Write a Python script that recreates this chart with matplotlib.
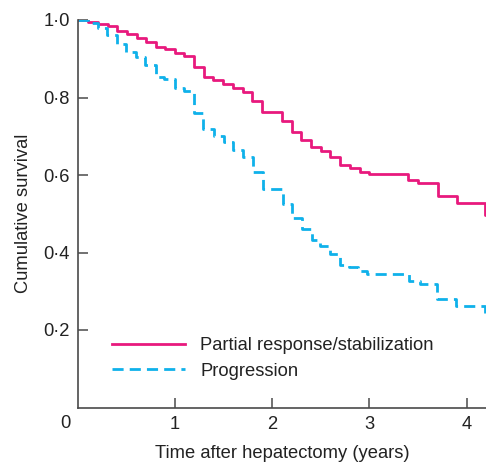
import matplotlib
matplotlib.use('Agg')
import matplotlib.pyplot as plt
from matplotlib.ticker import FuncFormatter

# Kaplan-Meier steps (time in years, survival after the drop)
pr_times = [0.0, 0.103, 0.209, 0.312, 0.398, 0.501, 0.604, 0.700, 0.799, 0.895,
            0.998, 1.094, 1.196, 1.296, 1.394, 1.495, 1.595, 1.694, 1.795, 1.896,
            2.099, 2.199, 2.299, 2.402, 2.500, 2.598, 2.699, 2.798, 2.901, 2.999,
            3.398, 3.505, 3.701, 3.902, 4.190, 4.25]
pr_surv = [1.0, 0.996, 0.990, 0.985, 0.972, 0.963, 0.954, 0.944, 0.930, 0.924,
           0.914, 0.908, 0.880, 0.854, 0.845, 0.835, 0.824, 0.813, 0.791, 0.762,
           0.739, 0.712, 0.691, 0.673, 0.661, 0.647, 0.625, 0.617, 0.608, 0.603,
           0.587, 0.580, 0.546, 0.529, 0.497, 0.497]

pg_times = [0.0, 0.103, 0.206, 0.298, 0.401, 0.494, 0.597, 0.689, 0.799, 0.885,
            0.995, 1.091, 1.190, 1.289, 1.399, 1.506, 1.600, 1.703, 1.804, 1.900,
            2.112, 2.199, 2.305, 2.404, 2.495, 2.593, 2.695, 2.788, 2.881, 2.973,
            3.408, 3.519, 3.697, 3.889, 4.187, 4.25]
pg_surv = [1.0, 0.992, 0.979, 0.961, 0.937, 0.917, 0.904, 0.884, 0.854, 0.848,
           0.824, 0.817, 0.759, 0.719, 0.701, 0.684, 0.665, 0.646, 0.607, 0.563,
           0.524, 0.488, 0.461, 0.432, 0.417, 0.396, 0.368, 0.363, 0.353, 0.345,
           0.327, 0.318, 0.279, 0.262, 0.234, 0.234]

x_ticks = [1, 2, 3, 4]
y_ticks = [0.2, 0.4, 0.6, 0.8, 1.0]

pink = '#e8197d'
blue = '#0fb1ea'
axis_col = '#4a4a4a'
txt_col = '#222222'
fs = 13.2

plt.rcParams['font.family'] = ['Liberation Sans', 'DejaVu Sans']

fig = plt.figure(figsize=(4.86, 4.63), dpi=100)
ax = fig.add_axes([78 / 486, 55.5 / 463, 408 / 486, 387.5 / 463])

ax.step(pr_times, pr_surv, where='post', color=pink, lw=2.0,
        label='Partial response/stabilization')
ax.step(pg_times, pg_surv, where='post', color=blue, lw=2.0,
        linestyle=(0, (4, 2.2)), label='Progression')

ax.set_xlim(0, 4.2)
ax.set_ylim(0, 1.0)

for s in ['top', 'right']:
    ax.spines[s].set_visible(False)
for s in ['left', 'bottom']:
    ax.spines[s].set_color(axis_col)
    ax.spines[s].set_linewidth(1.2)

ax.set_xticks(x_ticks)
ax.set_yticks(y_ticks)
ax.yaxis.set_major_formatter(FuncFormatter(lambda v, p: ('%.1f' % v).replace('.', '\u00b7')))
ax.tick_params(direction='in', length=7, width=1.1, color=axis_col,
               labelsize=fs, labelcolor=txt_col)
ax.tick_params(axis='x', pad=6)
ax.tick_params(axis='y', pad=6)

# shared origin label
ax.text(-0.135, -0.04, '0', transform=ax.transData, ha='center', va='center',
        fontsize=fs, color=txt_col, clip_on=False)

ax.set_xlabel('Time after hepatectomy (years)', fontsize=fs, color=txt_col, labelpad=9)
ax.set_ylabel('Cumulative survival', fontsize=fs, color=txt_col, labelpad=8)

leg = ax.legend(loc='center left', bbox_to_anchor=(0.0654, 0.1264), frameon=False,
                fontsize=fs, handlelength=4.0, handletextpad=0.8,
                labelspacing=0.46, borderaxespad=0)
for t in leg.get_texts():
    t.set_color(txt_col)

plt.savefig('out.png', dpi=100)
